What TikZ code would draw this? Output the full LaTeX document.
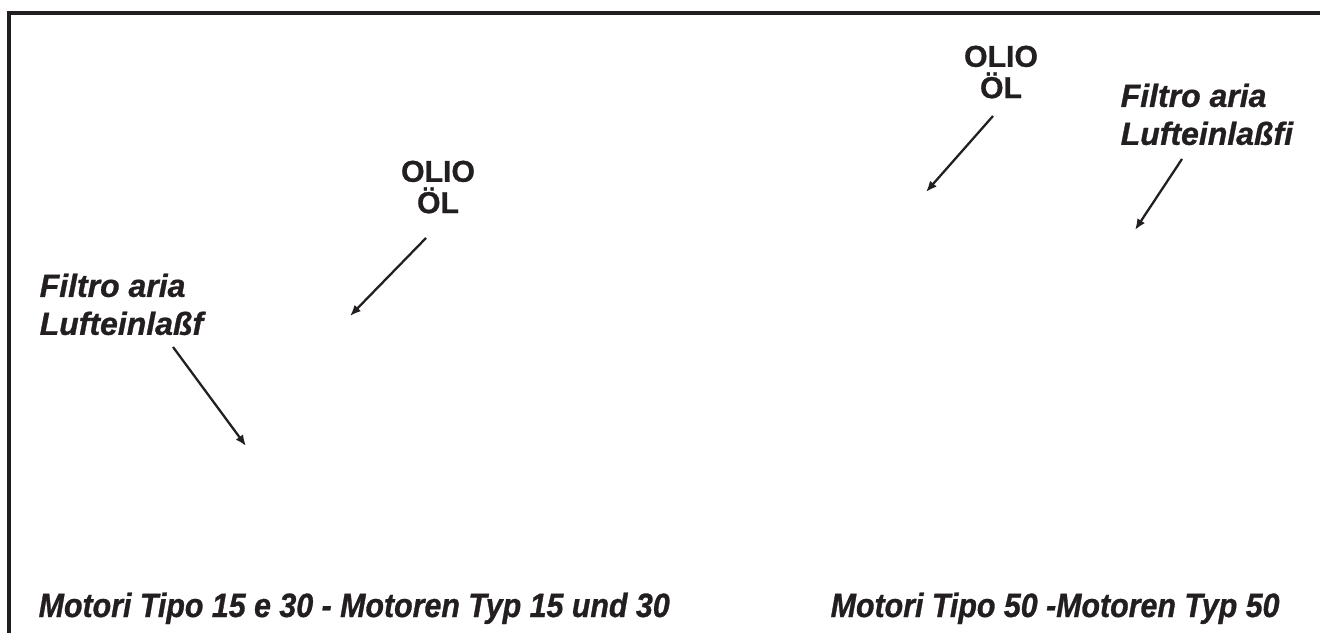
\documentclass[tikz,border=0pt]{standalone}
\usepackage{fontspec}
\setmainfont{Liberation Sans}[BoldFeatures={FakeBold=0.9}, BoldItalicFeatures={FakeBold=0.9}]
\newfontfamily\narrowsans{Liberation Sans}[FakeStretch=0.9, BoldFeatures={FakeBold=0.9}, BoldItalicFeatures={FakeBold=0.9}]
\usepackage{tikz}
\usetikzlibrary{positioning}
\usetikzlibrary{arrows.meta}
\definecolor{ink}{HTML}{231F20}

\begin{document}
\begin{tikzpicture}[x=1cm, y=1cm,
  oillabel/.style={font=\fontsize{8.6}{8.9}\selectfont\bfseries, align=center, inner sep=0pt, anchor=north, text=ink},
  filterlabel/.style={font=\fontsize{9.1}{10.8}\selectfont\bfseries\itshape, align=left, inner sep=0pt, anchor=north west, text=ink},
  titlelabel/.style={font=\narrowsans\fontsize{9.6}{11}\selectfont\bfseries\itshape, inner sep=0pt, anchor=base west, text=ink},
  pointer/.style={ink, line width=0.65pt, -{Latex[length=1.1mm, width=0.9mm]}}]

\useasboundingbox (0,0) rectangle (13.2,-6.33);

% frame
\draw[ink, line width=0.9pt] (0.09,-6.40) -- (0.09,-0.13) -- (13.3,-0.13);

% left: engines 15 and 30
\begin{scope}[xshift=0cm, yshift=0cm]
{
\node[oillabel] (oilA) at (4.38,-1.60) {OLIO\\ÖL};
\node[filterlabel] (filterA) at (0.39,-2.73) {Filtro aria\\Lufteinlaßf};
\node[titlelabel] (titleA) at (0.38,-6.17) {Motori Tipo 15 e 30 - Motoren Typ 15 und 30};

\coordinate (oilAfrom) at (4.26,-2.38);
\coordinate (oilAto) at (3.50,-3.16);
\coordinate (filterAfrom) at (1.73,-3.47);
\coordinate (filterAto) at (2.46,-4.46);

\draw[pointer] (oilAfrom) -- (oilAto);
\draw[pointer] (filterAfrom) -- (filterAto);
}
\end{scope}

% right: engine 50
\begin{scope}[xshift=0cm, yshift=0cm]
{
\node[oillabel] (oilB) at (10.01,-0.45) {OLIO\\ÖL};
\node[filterlabel] (filterB) at (11.20,-0.83) {Filtro aria\\Lufteinlaßfi};
\node[titlelabel] (titleB) at (8.30,-6.17) {Motori Tipo 50 -Motoren Typ 50};

\coordinate (oilBfrom) at (9.93,-1.16);
\coordinate (oilBto) at (9.26,-1.92);
\coordinate (filterBfrom) at (11.82,-1.59);
\coordinate (filterBto) at (11.35,-2.30);

\draw[pointer] (oilBfrom) -- (oilBto);
\draw[pointer] (filterBfrom) -- (filterBto);
}
\end{scope}

\end{tikzpicture}
\end{document}
